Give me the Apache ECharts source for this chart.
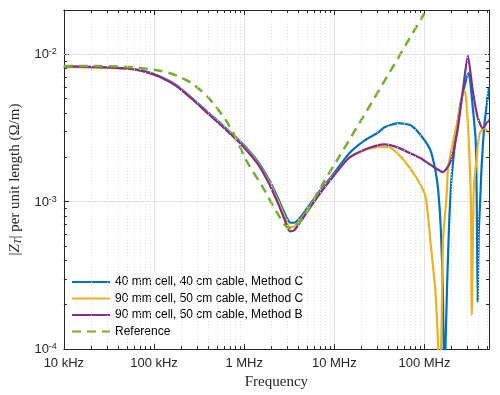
<!DOCTYPE html>
<html>
<head>
<meta charset="utf-8">
<script src="https://cdn.jsdelivr.net/npm/echarts@6/dist/echarts.min.js"></script>
<style>
html,body{margin:0;padding:0;background:#fff;}
#chart{width:500px;height:395px;}
</style>
</head>
<body>
<div id="chart"></div>
<script>
// ---- data (frequency in Hz, |Z_T| in ohm/m) ----
const seriesNames = [
  '40 mm cell, 40 cm cable, Method C',
  '90 mm cell, 50 cm cable, Method C',
  '90 mm cell, 50 cm cable, Method B',
  'Reference'
];
const xTickLabels = ['10 kHz', '100 kHz', '1 MHz', '10 MHz', '100 MHz'];
const xTickValues = [1e4, 1e5, 1e6, 1e7, 1e8];

const freqBlue = [1e4,2e4,3e4,5e4,7.5e4,1.15e5,1.76e5,2.64e5,4.05e5,6.2e5,9.3e5,1.42e6,1.92e6,2.4e6,2.8e6,3.2e6,3.6e6,4.4e6,5.5e6,6.8e6,1.0e7,1.45e7,2.15e7,3.06e7,3.6e7,5.1e7,7.0e7,9.0e7,1.16e8,1.32e8,1.42e8,1.52e8,1.6e8,1.66e8,1.7e8,1.78e8,1.88e8,2.02e8,2.47e8,2.95e8,3.1e8,3.43e8,3.7e8,3.8e8,3.89e8,4.0e8,4.2e8,4.3e8,4.64e8,5.2e8];
const zBlue    = [8.25e-3,8.2e-3,8.15e-3,8.05e-3,7.75e-3,7.1e-3,6.2e-3,5.05e-3,4.0e-3,3.17e-3,2.52e-3,1.87e-3,1.38e-3,1.04e-3,8.4e-4,7.25e-4,7.2e-4,8.1e-4,9.8e-4,1.17e-3,1.57e-3,2.12e-3,2.6e-3,2.95e-3,3.2e-3,3.42e-3,3.3e-3,2.85e-3,2.25e-3,1.64e-3,1.2e-3,6.5e-4,2.5e-4,6e-5,9e-5,2.6e-4,7.2e-4,1.57e-3,4.4e-3,7.0e-3,7.5e-3,4.4e-3,2.6e-3,1.05e-3,2.1e-4,6e-4,1.2e-3,1.72e-3,3.42e-3,6.0e-3];

const freqYellow = [1e4,2e4,3e4,5e4,7.5e4,1.15e5,1.76e5,2.64e5,4.05e5,6.2e5,9.3e5,1.42e6,1.92e6,2.4e6,2.8e6,3.2e6,3.6e6,4.4e6,5.5e6,6.8e6,1.0e7,1.45e7,2.15e7,3.3e7,4.25e7,5.9e7,8.4e7,1.03e8,1.16e8,1.32e8,1.42e8,1.47e8,1.53e8,1.57e8,1.61e8,1.78e8,1.83e8,2.3e8,2.67e8,2.81e8,3.03e8,3.27e8,3.35e8,3.52e8,3.8e8,4.09e8,4.64e8,5.2e8];
const zYellow    = [8.2e-3,8.15e-3,8.1e-3,8.0e-3,7.7e-3,7.05e-3,6.15e-3,5.0e-3,3.95e-3,3.12e-3,2.47e-3,1.83e-3,1.34e-3,1.0e-3,8.0e-4,6.7e-4,6.8e-4,7.8e-4,9.5e-4,1.14e-3,1.53e-3,1.98e-3,2.24e-3,2.36e-3,2.32e-3,1.92e-3,1.41e-3,1.08e-3,5.5e-4,2.5e-4,1e-4,4e-5,1e-4,2.54e-4,5.5e-4,1.21e-3,1.72e-3,3.42e-3,5.44e-3,5.7e-3,3.4e-3,1.03e-3,1.7e-4,1.21e-3,2.0e-3,2.9e-3,3.16e-3,2.9e-3];

const freqPurple = [1e4,2e4,3e4,5e4,7.5e4,1.15e5,1.76e5,2.64e5,4.05e5,6.2e5,9.3e5,1.42e6,1.92e6,2.4e6,2.8e6,3.2e6,3.6e6,4.4e6,5.5e6,6.8e6,1.0e7,1.45e7,2.15e7,3.06e7,3.6e7,5.1e7,7.6e7,9.0e7,1.17e8,1.6e8,1.93e8,2.3e8,2.67e8,3.03e8,3.43e8,3.89e8,4.42e8,5.2e8];
const zPurple    = [8.3e-3,8.22e-3,8.15e-3,8.02e-3,7.7e-3,7.05e-3,6.12e-3,4.98e-3,3.92e-3,3.1e-3,2.45e-3,1.8e-3,1.3e-3,9.6e-4,7.6e-4,6.3e-4,6.4e-4,7.6e-4,9.3e-4,1.12e-3,1.52e-3,1.98e-3,2.25e-3,2.42e-3,2.45e-3,2.33e-3,2.08e-3,1.98e-3,1.78e-3,1.59e-3,1.84e-3,2.92e-3,5.7e-3,9.8e-3,5.7e-3,3.75e-3,3.16e-3,3.6e-3];

const freqRef = [1e4,2e4,5e4,1.15e5,1.76e5,2.64e5,4.05e5,6.2e5,8.0e5,1.05e6,1.6e6,2.47e6,3.18e6,4.4e6,6.8e6,1.12e7,2e7,4.6e7,1e8];
const zRef    = [8.35e-3,8.33e-3,8.22e-3,7.75e-3,7.2e-3,6.35e-3,5.05e-3,3.6e-3,2.75e-3,1.92e-3,1.26e-3,7.9e-4,6.6e-4,7.6e-4,1.21e-3,2.0e-3,3.6e-3,8.5e-3,1.9e-2];

const xMin = 1e4, xMax = 5.2e8, yMin = 1e-4, yMax = 2e-2;
const minorMultipliers = [2,3,4,5,6,7,8,9];
const xDecades = [1e4,1e5,1e6,1e7,1e8];
const yDecades = [1e-4,1e-3,1e-2];

// ---- build ----
function pairs(xs, ys){ return xs.map((x,i)=>[x, ys[i]]); }
const xMinor = [];
xDecades.forEach(d=>minorMultipliers.forEach(m=>{ const v=d*m; if (v<xMax) xMinor.push(v); }));
const yMinor = [];
yDecades.forEach(d=>minorMultipliers.forEach(m=>{ const v=d*m; if (v<yMax && v>yMin) yMinor.push(v); }));

// minor tick length in data ratios (3px)
const gridW = 430, gridH = 341;
const xDec = Math.log10(xMax/xMin), yDec = Math.log10(yMax/yMin);
const fx = Math.pow(10, 3*xDec/gridW), fy = Math.pow(10, 3*yDec/gridH);

const minorGrid = [];
xMinor.forEach(v=>minorGrid.push({xAxis:v}));
yMinor.forEach(v=>minorGrid.push({yAxis:v}));

const minorTicks = [];
xMinor.forEach(v=>{
  minorTicks.push([{coord:[v,yMin]},{coord:[v,yMin*fy]}]);
  minorTicks.push([{coord:[v,yMax]},{coord:[v,yMax/fy]}]);
});
yMinor.forEach(v=>{
  minorTicks.push([{coord:[xMin,v]},{coord:[xMin*fx,v]}]);
  minorTicks.push([{coord:[xMax,v]},{coord:[xMax/fx,v]}]);
});

const axisColor = '#262626';
const sans = '"Liberation Sans", Arial, Helvetica, sans-serif';
const serif = '"Liberation Serif", "Times New Roman", serif';

function isDecade(v){ const l=Math.log10(v); return Math.abs(l-Math.round(l))<1e-6; }

const chart = echarts.init(document.getElementById('chart'), null, {renderer:'canvas'});
const colors = ['#0072BD','#EDB120','#7E2F8E','#77AC30'];

const option = {
  animation:false,
  backgroundColor:'#fff',
  grid:{left:59, right:11, top:10, bottom:44, containLabel:false},
  legend:{
    data:seriesNames,
    orient:'vertical',
    left:67, top:272,
    itemWidth:38, itemHeight:14, itemGap:2.5,
    backgroundColor:'#fff',
    padding:[3,4,3,4],
    itemStyle:{opacity:0},
    textStyle:{fontFamily:sans, fontSize:12, color:'#000', lineHeight:14},
    selectedMode:false
  },
  xAxis:[{
    type:'log', logBase:10, min:xMin, max:xMax, position:'bottom',
    name:'Frequency', nameLocation:'middle', nameGap:25,
    nameTextStyle:{fontFamily:serif, fontSize:15, color:axisColor},
    axisLine:{show:true, lineStyle:{color:axisColor, width:1}},
    axisTick:{show:true, inside:true, length:5, lineStyle:{color:axisColor}},
    axisLabel:{fontFamily:sans, fontSize:13, color:axisColor, margin:8,
      formatter:function(v){ const i = xTickValues.findIndex(t=>Math.abs(Math.log10(t)-Math.log10(v))<1e-6); return i>=0 ? xTickLabels[i] : ''; }},
    splitLine:{show:true, lineStyle:{color:'#e2e2e2', width:1}}
  },{
    type:'log', logBase:10, min:xMin, max:xMax, position:'top',
    axisLine:{show:true, lineStyle:{color:axisColor, width:1}},
    axisTick:{show:true, inside:true, length:5, lineStyle:{color:axisColor}},
    axisLabel:{show:false}, splitLine:{show:false}
  }],
  yAxis:[{
    type:'log', logBase:10, min:yMin, max:yMax, position:'left',
    name:'{p||}{i|Z}{s|T}{p|| per unit length (Ω/m)}', nameLocation:'middle', nameGap:39,
    nameTextStyle:{fontFamily:serif, fontSize:15, color:axisColor,
      rich:{
        p:{fontFamily:serif, fontSize:15, color:axisColor},
        i:{fontFamily:serif, fontSize:15, fontStyle:'italic', color:axisColor},
        s:{fontFamily:serif, fontSize:10, fontStyle:'italic', color:axisColor, padding:[6,0,0,0]}
      }},
    axisLine:{show:true, lineStyle:{color:axisColor, width:1}},
    axisTick:{show:true, inside:true, length:5, lineStyle:{color:axisColor}},
    axisLabel:{color:axisColor, margin:7,
      formatter:function(v){ if(!isDecade(v)) return ''; return '{b|10}{s|' + Math.round(Math.log10(v)) + '}'; },
      rich:{
        b:{fontFamily:sans, fontSize:13, color:axisColor, verticalAlign:'bottom', lineHeight:14},
        s:{fontFamily:sans, fontSize:9, color:axisColor, verticalAlign:'top', lineHeight:9, padding:[0,0,9,0]}
      }},
    splitLine:{show:true, lineStyle:{color:'#e2e2e2', width:1}}
  },{
    type:'log', logBase:10, min:yMin, max:yMax, position:'right',
    axisLine:{show:true, lineStyle:{color:axisColor, width:1}},
    axisTick:{show:true, inside:true, length:5, lineStyle:{color:axisColor}},
    axisLabel:{show:false}, splitLine:{show:false}
  }],
  series:[
    {name:'minorGrid', type:'line', data:[], z:1, silent:true,
     markLine:{silent:true, symbol:['none','none'], label:{show:false},
       lineStyle:{color:'#e0e0e0', type:[1,2], width:1}, data:minorGrid, animation:false}},
    {name:seriesNames[0], type:'line', data:pairs(freqBlue,zBlue), symbol:'none', smooth:0.2, z:3,
     lineStyle:{color:colors[0], width:2.2}, itemStyle:{color:colors[0]}},
    {name:seriesNames[1], type:'line', data:pairs(freqYellow,zYellow), symbol:'none', smooth:0.2, z:3,
     lineStyle:{color:colors[1], width:2.2}, itemStyle:{color:colors[1]}},
    {name:seriesNames[2], type:'line', data:pairs(freqPurple,zPurple), symbol:'none', smooth:0.2, z:3,
     lineStyle:{color:colors[2], width:2.2}, itemStyle:{color:colors[2]}},
    {name:seriesNames[3], type:'line', data:pairs(freqRef,zRef), symbol:'none', smooth:0.3, z:4,
     lineStyle:{color:colors[3], width:2.5, type:[9,6]}, itemStyle:{color:colors[3]}},
    {name:'minorTicks', type:'line', data:[], z:5, silent:true,
     markLine:{silent:true, symbol:['none','none'], label:{show:false},
       lineStyle:{color:axisColor, type:'solid', width:1}, data:minorTicks, animation:false}}
  ]
};
chart.setOption(option);
</script>
</body>
</html>
